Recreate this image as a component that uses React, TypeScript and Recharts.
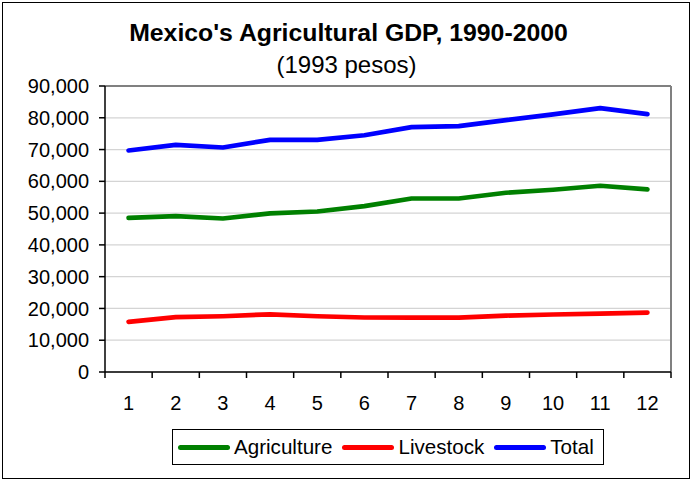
import React from 'react';
import {
  LineChart,
  Line,
  XAxis,
  YAxis,
  CartesianGrid,
  Legend,
  ReferenceLine,
} from 'recharts';

// Agricultural GDP by year index (1993 pesos)
const periods = [1, 2, 3, 4, 5, 6, 7, 8, 9, 10, 11, 12];
const agriculture = [48500, 49050, 48300, 49900, 50500, 52200, 54600, 54600, 56400, 57350, 58600, 57450];
const livestock = [15800, 17250, 17550, 18150, 17550, 17150, 17100, 17100, 17750, 18100, 18400, 18700];
const total = [69700, 71450, 70650, 73050, 73050, 74500, 77050, 77350, 79250, 81050, 83050, 81150];

const yTicks = [0, 10000, 20000, 30000, 40000, 50000, 60000, 70000, 80000, 90000];
// Category boundaries (tick marks) and centres (labels)
const xTicks = periods.flatMap((p) => [p - 0.5, p]).concat([periods[periods.length - 1] + 0.5]);

const seriesInfo = [
  { key: 'agriculture', name: 'Agriculture', color: '#008000' },
  { key: 'livestock', name: 'Livestock', color: '#FF0000' },
  { key: 'total', name: 'Total', color: '#0000FF' },
];

const data = periods.map((p, i) => ({
  x: p,
  agriculture: agriculture[i],
  livestock: livestock[i],
  total: total[i],
}));

const FONT = '"Liberation Sans", Arial, sans-serif';

const fmt = (v: number) => v.toLocaleString('en-US');

const XTick = (props: any) => {
  const { x, y, payload } = props;
  const v = payload.value as number;
  if (Math.abs(v - Math.round(v)) > 0.01) {
    return <line x1={x} y1={y} x2={x} y2={y + 6} stroke="#000" strokeWidth={1.5} />;
  }
  return (
    <text x={x} y={y + 38} textAnchor="middle" fontSize={20} fontFamily={FONT} fill="#000">
      {v}
    </text>
  );
};

const LegendBox = () => (
  <div
    style={{
      boxSizing: 'border-box',
      width: 432,
      height: 36,
      border: '1px solid #000',
      background: '#fff',
      display: 'flex',
      alignItems: 'center',
      paddingLeft: 5,
      fontFamily: FONT,
      fontSize: 20.6,
      color: '#000',
    }}
  >
    {seriesInfo.map((s) => (
      <div key={s.key} style={{ display: 'flex', alignItems: 'center', marginRight: 10 }}>
        <div
          style={{
            width: 52,
            height: 5,
            borderRadius: 3,
            background: s.color,
            marginRight: 4,
          }}
        />
        <span style={{ lineHeight: '20px' }}>{s.name}</span>
      </div>
    ))}
  </div>
);

export default function App() {
  return (
    <div style={{ position: 'absolute', left: 0, top: 0, width: 690, height: 481, background: '#fff' }}>
      <div
        style={{
          position: 'absolute',
          left: 2,
          top: 2,
          width: 688,
          height: 477,
          boxSizing: 'border-box',
          border: '1px solid #000',
        }}
      />
      <div
        style={{
          position: 'absolute',
          left: 0,
          top: 21.2,
          width: 697,
          textAlign: 'center',
          fontFamily: FONT,
          fontWeight: 'bold',
          fontSize: 24.8,
          lineHeight: '24px',
          color: '#000',
        }}
      >
        Mexico's Agricultural GDP, 1990-2000
      </div>
      <div
        style={{
          position: 'absolute',
          left: 0,
          top: 52.7,
          width: 693,
          textAlign: 'center',
          fontFamily: FONT,
          fontSize: 24,
          lineHeight: '24px',
          color: '#000',
        }}
      >
        (1993 pesos)
      </div>
      <LineChart
        width={690}
        height={481}
        data={data}
        margin={{ top: 86, right: 19, left: 5, bottom: 69 }}
        style={{ position: 'absolute', left: 0, top: 0 }}
      >
        <CartesianGrid horizontal vertical={false} stroke="#d4d4d4" strokeWidth={1.2} />
        <XAxis
          dataKey="x"
          type="number"
          domain={[0.5, 12.5]}
          ticks={xTicks}
          interval={0}
          allowDecimals
          tickLine={false}
          tickSize={0}
          tickMargin={0}
          tick={<XTick />}
          height={40}
          axisLine={{ stroke: '#000', strokeWidth: 1.5 }}
        />
        <YAxis
          type="number"
          domain={[0, 90000]}
          ticks={yTicks}
          interval={0}
          width={100}
          tickSize={6}
          tickMargin={10}
          tickFormatter={fmt}
          tick={{ fontSize: 20, fontFamily: FONT, fill: '#000' }}
          tickLine={{ stroke: '#000', strokeWidth: 1.5 }}
          axisLine={{ stroke: '#000', strokeWidth: 1.5 }}
        />
        <ReferenceLine y={90000} stroke="#808080" strokeWidth={2} />
        <ReferenceLine x={12.5} stroke="#808080" strokeWidth={2} />
        {seriesInfo.map((s) => (
          <Line
            key={s.key}
            dataKey={s.key}
            name={s.name}
            type="linear"
            stroke={s.color}
            strokeWidth={4.7}
            strokeLinecap="round"
            strokeLinejoin="round"
            dot={false}
            activeDot={false}
            isAnimationActive={false}
          />
        ))}
        <Legend
          layout="horizontal"
          verticalAlign="middle"
          align="center"
          content={<LegendBox />}
          wrapperStyle={{ left: 172, top: 429, width: 432, height: 36 }}
        />
      </LineChart>
    </div>
  );
}
